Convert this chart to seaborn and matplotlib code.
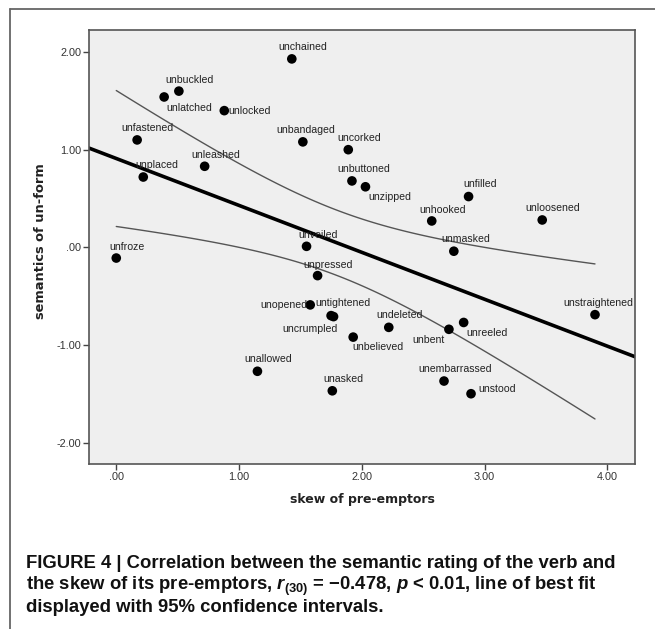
import matplotlib
matplotlib.use('Agg')
import matplotlib.pyplot as plt
from matplotlib.lines import Line2D
import numpy as np
import pandas as pd
import seaborn as sns

# verbs with their skew of pre-emptors and semantic rating
words = ['unchained', 'unbuckled', 'unlatched', 'unlocked', 'unfastened', 'unbandaged',
         'unleashed', 'unplaced', 'unveiled', 'uncorked', 'unbuttoned', 'unzipped',
         'unfilled', 'unhooked', 'unloosened', 'unfroze', 'unpressed', 'unopened',
         'unallowed', 'unmasked', 'untightened', 'uncrumpled', 'undeleted', 'unbelieved',
         'unbent', 'unreeled', 'unstraightened', 'unasked', 'unembarrassed', 'unstood']
skew = [1.43, 0.51, 0.39, 0.88, 0.17, 1.52,
        0.72, 0.22, 1.55, 1.89, 1.92, 2.03,
        2.87, 2.57, 3.47, 0.00, 1.64, 1.58,
        1.15, 2.75, 1.75, 1.77, 2.22, 1.93,
        2.71, 2.83, 3.90, 1.76, 2.67, 2.89]
semantics = [1.93, 1.60, 1.54, 1.40, 1.10, 1.08,
             0.83, 0.72, 0.01, 1.00, 0.68, 0.62,
             0.52, 0.27, 0.28, -0.11, -0.29, -0.59,
             -1.27, -0.04, -0.70, -0.71, -0.82, -0.92,
             -0.84, -0.77, -0.69, -1.47, -1.37, -1.50]

df = pd.DataFrame({'word': words, 'skew': skew, 'semantics': semantics})

# label placement (pixel offset from point, alignment)
label_pos = {
    'unlatched': (2, -11, 'left'), 'unlocked': (4, 0, 'left'), 'unzipped': (3, -10, 'left'),
    'unopened': (-3, 0, 'right'), 'uncrumpled': (4, -12, 'right'), 'unbelieved': (-1, -10, 'left'),
    'unbent': (-4, -11, 'right'), 'unreeled': (3, -11, 'left'), 'unstood': (7, 5, 'left'),
    'unchained': (-13, 12, 'left'), 'unbuckled': (-13, 11, 'left'), 'unfastened': (-16, 12, 'left'),
    'unbandaged': (-26, 12, 'left'), 'unleashed': (-13, 11, 'left'), 'unplaced': (-8, 12, 'left'),
    'unfroze': (-7, 11, 'left'), 'unveiled': (-8, 11, 'left'), 'uncorked': (-11, 12, 'left'),
    'unbuttoned': (-15, 12, 'left'), 'unfilled': (-5, 13, 'left'), 'unhooked': (-12, 11, 'left'),
    'unloosened': (-17, 12, 'left'), 'unpressed': (-14, 11, 'left'), 'unallowed': (-13, 12, 'left'),
    'unmasked': (-12, 12, 'left'), 'untightened': (-16, 13, 'left'), 'undeleted': (-12, 12, 'left'),
    'unstraightened': (-32, 12, 'left'), 'unasked': (-9, 12, 'left'), 'unembarrassed': (-26, 12, 'left'),
}

sns.set_style('white')
plt.rcParams['font.family'] = ['Liberation Sans', 'DejaVu Sans']

fig = plt.figure(figsize=(6.55, 6.29), dpi=100)
ax = fig.add_axes([0.1359, 0.2623, 0.8336, 0.69])
ax.set_facecolor('#efefef')
ax.set_xlim(-0.222, 4.226)
ax.set_ylim(-2.22, 2.226)

# line of best fit across the whole axis
sns.regplot(data=df, x='skew', y='semantics', scatter=False, ci=None, truncate=False,
            color='black', line_kws={'linewidth': 2.6}, ax=ax)

# 95% confidence interval of the mean prediction
x = np.array(skew)
y = np.array(semantics)
n = len(x)
slope, intercept = np.polyfit(x, y, 1)
resid = y - (intercept + slope * x)
s = np.sqrt(np.sum(resid ** 2) / (n - 2))
t_crit = 2.048
xs = np.linspace(x.min(), x.max(), 100)
yfit = intercept + slope * xs
half = t_crit * s * np.sqrt(1 / n + (xs - x.mean()) ** 2 / np.sum((x - x.mean()) ** 2))
ax.plot(xs, yfit + half, color='#555555', linewidth=1.0)
ax.plot(xs, yfit - half, color='#555555', linewidth=1.0)

sns.scatterplot(data=df, x='skew', y='semantics', color='black', s=48,
                edgecolor='none', ax=ax, zorder=3)

for w, xv, yv in zip(words, skew, semantics):
    dx, dy, ha = label_pos[w]
    ax.annotate(w, (xv, yv), xytext=(dx, dy), textcoords='offset pixels',
                ha=ha, va='center', fontsize=7.6, color='#222222')

ax.set_xticks([0, 1, 2, 3, 4])
ax.set_xticklabels(['.00', '1.00', '2.00', '3.00', '4.00'])
ax.set_yticks([2, 1, 0, -1, -2])
ax.set_yticklabels(['2.00', '1.00', '.00', '-1.00', '-2.00'])
ax.tick_params(axis='both', direction='out', length=4, width=1, color='#444444',
               labelsize=7.8, labelcolor='#333333', pad=1.5, bottom=True, left=True)
for sp in ax.spines.values():
    sp.set_color('#555555')
    sp.set_linewidth(1.2)

ax.set_xlabel('skew of pre-emptors', fontsize=9, fontweight='bold', family='DejaVu Sans',
              color='#222222', labelpad=8)
ax.set_ylabel('semantics of un-form', fontsize=9.4, fontweight='bold', family='DejaVu Sans',
              color='#222222')
ax.yaxis.set_label_coords(-0.077, 0.514)

# page frame lines
fig.add_artist(Line2D([10 / 655, 1], [1 - 9 / 629] * 2, color='#666666', linewidth=1.3))
fig.add_artist(Line2D([10 / 655] * 2, [0, 1 - 9 / 629], color='#666666', linewidth=1.3))

# caption
plt.rcParams['mathtext.fontset'] = 'custom'
plt.rcParams['mathtext.rm'] = 'Liberation Sans:bold'
plt.rcParams['mathtext.it'] = 'Liberation Sans:italic:bold'
plt.rcParams['mathtext.bf'] = 'Liberation Sans:bold'
cap_kw = dict(fontsize=13.3, fontweight='bold', family=['Liberation Sans', 'DejaVu Sans'],
              color='#111111', ha='left', va='center')
fig.text(26 / 655, 1 - 563 / 629, 'FIGURE 4 | Correlation between the semantic rating of the verb and', **cap_kw)
fig.text(26 / 655, 1 - 586 / 629,
         'the skew of its pre-emptors, $r_{(30)}$ = \u22120.478, $p$ < 0.01, line of best fit', **cap_kw)
fig.text(26 / 655, 1 - 608 / 629, 'displayed with 95% confidence intervals.', **cap_kw)

fig.savefig('out.png', dpi=100)
